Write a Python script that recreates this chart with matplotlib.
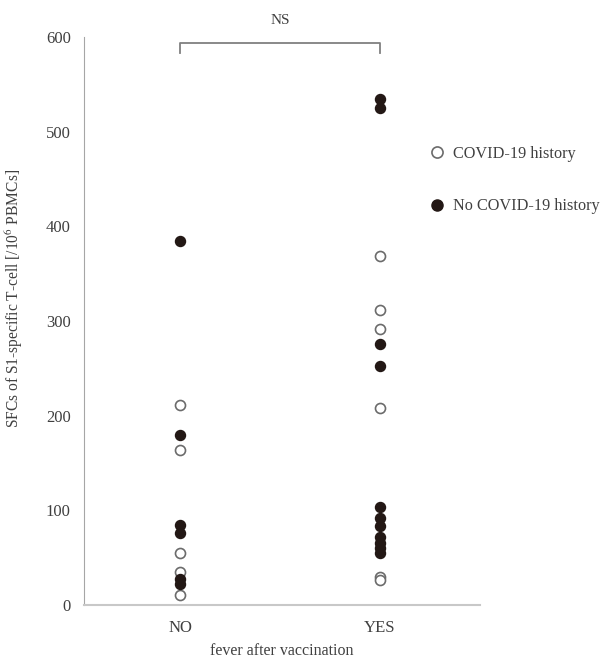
import matplotlib
matplotlib.use("Agg")
import matplotlib.pyplot as plt
from matplotlib.lines import Line2D

plt.rcParams['font.family'] = ['Liberation Serif', 'DejaVu Serif']
plt.rcParams['mathtext.fontset'] = 'stix'

categories = ["NO", "YES"]
no_covid_hist = [211, 164, 55, 35, 11]          # open circles
no_no_covid = [384, 180, 84, 76, 27, 22]        # filled
yes_covid_hist = [369, 312, 292, 208, 30, 26]
yes_no_covid = [534, 525, 276, 252, 104, 92, 83, 72, 65, 60, 55]

fig = plt.figure(figsize=(6.01, 6.60), dpi=100)
ax = fig.add_axes([84/601, 1-605/660, (480-84)/601, (605-37)/660])

txt_color = '#404040'
fill_c = '#231815'
ms = 52

ax.scatter([0]*len(no_covid_hist), no_covid_hist, s=ms, facecolors='white',
           edgecolors='#6b6b6b', linewidths=1.2, zorder=3)
ax.scatter([0]*len(no_no_covid), no_no_covid, s=ms, color=fill_c, zorder=3)
ax.scatter([1]*len(yes_covid_hist), yes_covid_hist, s=ms, facecolors='white',
           edgecolors='#6b6b6b', linewidths=1.2, zorder=3)
ax.scatter([1]*len(yes_no_covid), yes_no_covid, s=ms, color=fill_c, zorder=3)

ax.set_xlim(-0.48, 1.5)
ax.set_ylim(0, 600)
ax.set_yticks([0, 100, 200, 300, 400, 500, 600])
ax.set_xticks([0, 1])
ax.set_xticklabels(categories)
ax.tick_params(axis='both', length=0, labelsize=12, colors=txt_color)
ax.tick_params(axis='y', pad=9.5)
ax.tick_params(axis='x', pad=11)

for s in ['top', 'right']:
    ax.spines[s].set_visible(False)
ax.spines['left'].set_color('#a6a6a6')
ax.spines['bottom'].set_color('#c8c8c8')
ax.spines['bottom'].set_linewidth(1.5)

# significance bracket
ax.plot([0, 0, 1, 1], [583, 594, 594, 583], color='#808080', lw=1.3, clip_on=False)
ax.text(0.5, 617, "NS", ha='center', va='center', fontsize=11, color=txt_color, clip_on=False)

ax.set_ylabel("SFCs of S1-specific T-cell [/10$^{6}$ PBMCs]", fontsize=11.2, color=txt_color)
ax.yaxis.set_label_coords((25-84)/396, (605-298)/568)
ax.set_xlabel("fever after vaccination", fontsize=11.5, color=txt_color)
ax.xaxis.set_label_coords(0.5, (605-643)/568)

handles = [Line2D([], [], marker='o', ls='', markersize=8, markerfacecolor='white',
                  markeredgecolor='#6b6b6b', markeredgewidth=1.2),
           Line2D([], [], marker='o', ls='', markersize=8, color=fill_c)]
leg = fig.legend(handles, ["COVID-19 history", "No COVID-19 history"], loc='upper left',
                 bbox_to_anchor=(413/601, 1-131/660), frameon=False, fontsize=11.7,
                 labelspacing=2.25, handletextpad=0.35, handlelength=1.2)
for t in leg.get_texts():
    t.set_color(txt_color)

fig.savefig("out.png", dpi=100)
